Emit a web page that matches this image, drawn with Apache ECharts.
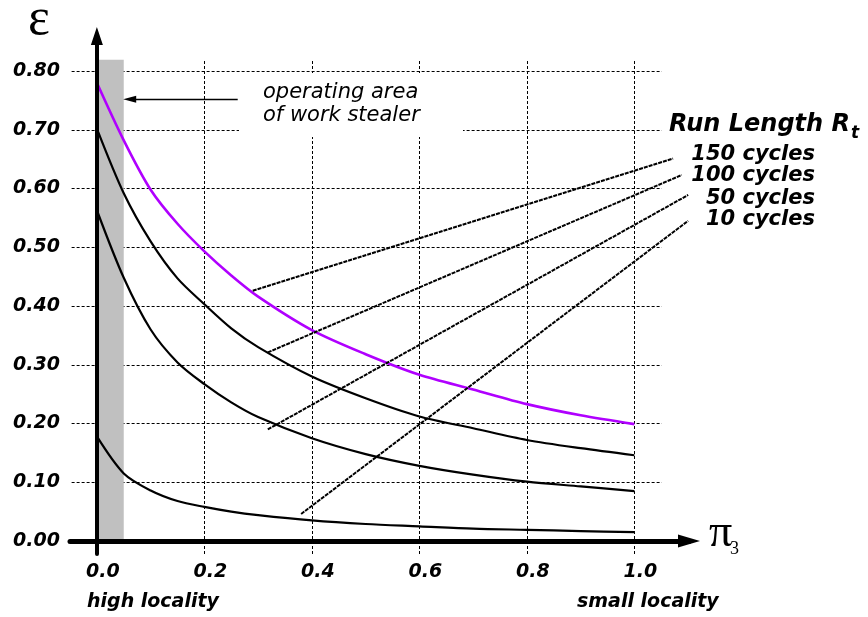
<!DOCTYPE html>
<html>
<head>
<meta charset="utf-8">
<script src="https://cdn.jsdelivr.net/npm/echarts@6.0.0/dist/echarts.min.js"></script>
<style>
  html, body { margin: 0; padding: 0; background: #fff; }
  #chart { width: 868px; height: 617px; }
</style>
</head>
<body>
<div id="chart"></div>
<script>
"use strict";

/* ── data ── */
const xs     = [0, 0.05, 0.1, 0.15, 0.2, 0.25, 0.3, 0.4, 0.5, 0.6, 0.7, 0.8, 0.9, 1.0];
const eps150 = [0.780, 0.682, 0.598, 0.540, 0.493, 0.452, 0.416, 0.359, 0.318, 0.283, 0.258, 0.233, 0.214, 0.199];
const eps100 = [0.702, 0.592, 0.510, 0.447, 0.403, 0.362, 0.330, 0.280, 0.243, 0.212, 0.192, 0.172, 0.158, 0.146];
const eps50  = [0.563, 0.448, 0.360, 0.304, 0.267, 0.236, 0.211, 0.175, 0.148, 0.128, 0.113, 0.101, 0.093, 0.085];
const eps10  = [0.178, 0.115, 0.086, 0.068, 0.058, 0.050, 0.044, 0.035, 0.029, 0.025, 0.021, 0.019, 0.017, 0.015];

const runLabels = ["150 cycles", "100 cycles", "50 cycles", "10 cycles"];
const xTicks = [0, 0.2, 0.4, 0.6, 0.8, 1.0];
const yTicks = [0, 0.1, 0.2, 0.3, 0.4, 0.5, 0.6, 0.7, 0.8];
const gridXs = [0.2, 0.4, 0.6, 0.8, 1.0];
const gridYs = [0.1, 0.2, 0.3, 0.4, 0.5, 0.6, 0.7, 0.8];

// leader lines: curve -> label
const leaderFrom = [[0.290, 0.426], [0.318, 0.321], [0.318, 0.190], [0.380, 0.046]];
const leaderTo   = [[1.072, 0.651], [1.088, 0.623], [1.100, 0.589], [1.100, 0.545]];

const opArea  = [0, 0.05];          // operating area of work stealer (pi3 range)
const opArrow = [[0.262, 0.752], [0.061, 0.752]];

/* ── chart ── */
const X_MIN = -0.05, X_MAX = 1.1016;
const Y_MIN = -0.0221, Y_MAX = 0.8596;
const TOP_Y = 0.819, RIGHT_X = 1.051;

const BI = "italic bold";
const SANS = "'DejaVu Sans'";
const SERIF = "'Liberation Serif'";

const chart = echarts.init(document.getElementById("chart"));

const gridLines = [
  ...gridXs.map(x => [{ coord: [x, Y_MIN] }, { coord: [x, TOP_Y] }]),
  ...gridYs.map(y => [{ coord: [-0.047, y] }, { coord: [RIGHT_X, y] }])
];

const curves = [eps150, eps100, eps50, eps10].map((ys, i) => ({
  type: "line", z: 3, smooth: 0.3, symbol: "none", silent: true,
  data: xs.map((x, j) => [x, ys[j]]),
  lineStyle: { color: i === 0 ? "#b000ff" : "#000", width: i === 0 ? 2.6 : 2.2 }
}));

function txt(text, x, y, font, align, vAlign) {
  return {
    type: "text", z: 20, x, y, silent: true,
    style: { text, font, fill: "#000", align, textAlign: align, verticalAlign: vAlign || "middle", textVerticalAlign: vAlign || "middle" }
  };
}

chart.setOption({
  animation: false,
  backgroundColor: "#fff",
  grid: { left: 70, right: 179, top: 36, bottom: 63, containLabel: false, outerBoundsMode: "none" },
  xAxis: {
    type: "value", min: X_MIN, max: X_MAX, z: 10,
    axisLine: { onZero: true, lineStyle: { color: "#000", width: 5 }, symbol: ["none", "triangle"], symbolSize: [13, 22] },
    axisTick: { show: false },
    splitLine: { show: false },
    axisLabel: {
      customValues: xTicks, formatter: v => v.toFixed(1), margin: 9,
      color: "#000", fontFamily: "DejaVu Sans", fontStyle: "italic", fontWeight: "bold", fontSize: 19,
      padding: [0, 0, 0, 12]
    }
  },
  yAxis: {
    type: "value", min: Y_MIN, max: Y_MAX, z: 10,
    axisLine: { onZero: true, lineStyle: { color: "#000", width: 4 }, symbol: ["none", "triangle"], symbolSize: [12, 18] },
    axisTick: { show: false },
    splitLine: { show: false },
    axisLabel: {
      customValues: yTicks, formatter: v => v.toFixed(2), margin: 10,
      color: "#000", fontFamily: "DejaVu Sans", fontStyle: "italic", fontWeight: "bold", fontSize: 19
    }
  },
  series: [
    {
      // dotted grid
      type: "line", data: [], clip: false, silent: true,
      markLine: {
        silent: true, z: 1, symbol: "none", label: { show: false },
        lineStyle: { color: "#000", width: 1, type: [3, 2] },
        data: gridLines
      }
    },
    {
      // grey band
      type: "line", data: [], clip: false, silent: true,
      markArea: {
        silent: true, z: 2, itemStyle: { color: "#c0c0c0" },
        data: [[{ coord: [opArea[0], 0] }, { coord: [opArea[1], TOP_Y] }]]
      }
    },
    ...curves,
    {
      // leader lines
      type: "line", data: [], clip: false, silent: true,
      markLine: {
        silent: true, z: 4, symbol: "none", label: { show: false },
        lineStyle: { color: "#000", width: 2, type: [4, 1], opacity: 1 },
        data: leaderFrom.map((p, i) => [{ coord: p }, { coord: leaderTo[i] }])
      }
    },
    {
      // arrow to operating area
      type: "line", data: [], clip: false, silent: true,
      markLine: {
        silent: true, z: 4, symbol: ["none", "triangle"], symbolSize: [7, 13], label: { show: false },
        lineStyle: { color: "#000", width: 1.3, type: "solid" },
        data: [[{ coord: opArrow[0] }, { coord: opArrow[1] }]]
      }
    }
  ],
  graphic: [
    { type: "rect", z: 2, silent: true, shape: { x: 239, y: 73, width: 224, height: 64 }, style: { fill: "#fff" } },
    txt("ε", 39, 20, `52px ${SERIF}`, "center"),
    txt("π", 709, 534, `46px ${SERIF}`, "left"),
    txt("3", 730, 549, `18px ${SERIF}`, "left"),
    txt("Run Length R", 850, 125, `${BI} 24px ${SANS}`, "right"),
    txt("t", 851, 134, `${BI} 17px ${SANS}`, "left"),
    ...runLabels.map((s, i) => txt(s, 815, [155, 176, 199, 220][i], `${BI} 21px ${SANS}`, "right")),
    txt("operating area", 263, 93, `italic 21px ${SANS}`, "left"),
    txt("of work stealer", 263, 116, `italic 21px ${SANS}`, "left"),
    txt("high locality", 87, 602, `${BI} 19px ${SANS}`, "left"),
    txt("small locality", 577, 602, `${BI} 19px ${SANS}`, "left")
  ]
});
window.addEventListener("resize", () => chart.resize());
</script>
</body>
</html>
